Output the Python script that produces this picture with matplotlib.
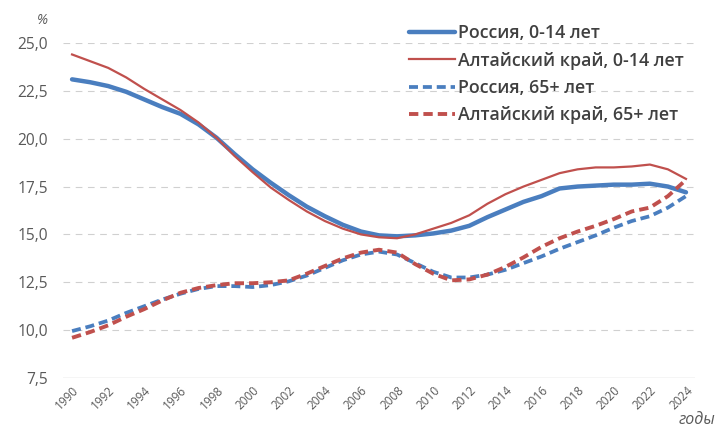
import numpy as np
import matplotlib
matplotlib.use('Agg')
import matplotlib.pyplot as plt

plt.rcParams['font.family'] = ['Open Sans', 'DejaVu Sans']

years = list(range(1990, 2025))

# доля населения, %
russia_0_14 = [23.1, 22.95, 22.75, 22.45, 22.05, 21.65, 21.3, 20.75, 20.05, 19.2,
               18.4, 17.7, 17.05, 16.45, 15.95, 15.5, 15.15, 14.95, 14.9, 14.95,
               15.05, 15.2, 15.45, 15.9, 16.3, 16.7, 17.0, 17.4, 17.5, 17.55,
               17.6, 17.6, 17.65, 17.5, 17.2]
altai_0_14 = [24.4, 24.05, 23.7, 23.2, 22.6, 22.05, 21.5, 20.85, 20.05, 19.1,
              18.25, 17.45, 16.8, 16.2, 15.7, 15.3, 15.0, 14.85, 14.8, 15.0,
              15.3, 15.6, 16.0, 16.6, 17.1, 17.5, 17.85, 18.2, 18.4, 18.5,
              18.5, 18.55, 18.65, 18.4, 17.9]
russia_65 = [9.95, 10.2, 10.5, 10.9, 11.25, 11.6, 11.9, 12.15, 12.3, 12.3,
             12.25, 12.35, 12.55, 12.85, 13.25, 13.65, 13.95, 14.1, 13.95, 13.5,
             13.05, 12.75, 12.75, 12.9, 13.15, 13.5, 13.85, 14.25, 14.6, 14.95,
             15.35, 15.7, 15.95, 16.4, 17.0]
altai_65 = [9.6, 9.9, 10.25, 10.7, 11.1, 11.55, 11.95, 12.2, 12.35, 12.45,
            12.45, 12.5, 12.6, 12.95, 13.35, 13.75, 14.05, 14.2, 14.05, 13.45,
            12.95, 12.6, 12.65, 12.9, 13.3, 13.8, 14.35, 14.8, 15.15, 15.45,
            15.8, 16.2, 16.4, 17.0, 17.85]

yticks = [7.5, 10.0, 12.5, 15.0, 17.5, 20.0, 22.5, 25.0]
labels = ['Россия, 0-14 лет', 'Алтайский край, 0-14 лет',
          'Россия, 65+ лет', 'Алтайский край, 65+ лет']

blue = '#4a7ebf'
red = '#c0504d'
grey = '#595959'

fig = plt.figure(figsize=(7.22, 4.29), dpi=100)
ax = fig.add_axes([0.0873, 0.1189, 0.8753, 0.7809])

x = np.arange(len(years))
ax.plot(x, russia_0_14, color=blue, lw=3.2, solid_capstyle='round', label=labels[0])
ax.plot(x, altai_0_14, color=red, lw=1.6, label=labels[1])
ax.plot(x, russia_65, color=blue, lw=2.7, linestyle=(0, (2.4, 1.3)), label=labels[2])
ax.plot(x, altai_65, color=red, lw=2.8, linestyle=(0, (2.4, 1.3)), label=labels[3])

ax.set_xlim(-0.5, len(years) - 0.5)
ax.set_ylim(7.5, 25.0)

for t in yticks[1:]:
    ax.axhline(t, color='#d0d0d0', lw=0.8, linestyle=(0, (6, 5)), zorder=0)
ax.axhline(7.5, color='#d0d0d0', lw=1.0, zorder=0)

for s in ax.spines.values():
    s.set_visible(False)

ax.set_yticks(yticks)
ax.set_yticklabels([f'{t:.1f}'.replace('.', ',') for t in yticks], fontsize=11.2, color=grey)
xt = [i for i, yr in enumerate(years) if yr % 2 == 0]
ax.set_xticks(xt)
ax.set_xticklabels([str(years[i]) for i in xt], rotation=45, ha='right',
                   rotation_mode='anchor', fontsize=8.5, color=grey)
ax.tick_params(length=0)
ax.tick_params(axis='y', pad=11)
ax.tick_params(axis='x', pad=4)

fig.text(0.051, 0.945, '%', fontsize=10, style='italic', color=grey)
fig.text(0.940, 0.012, 'годы', fontsize=11.5, style='italic', color=grey)

leg = ax.legend(loc='upper left', bbox_to_anchor=(0.566, 0.943),
                bbox_transform=fig.transFigure, frameon=False,
                fontsize=12.8, handlelength=2.6, handletextpad=0.2,
                labelspacing=0.52, borderpad=0, borderaxespad=0)
for txt in leg.get_texts():
    txt.set_color('#404040')
    txt.set_fontweight('semibold')

fig.savefig('out.png', dpi=100)
